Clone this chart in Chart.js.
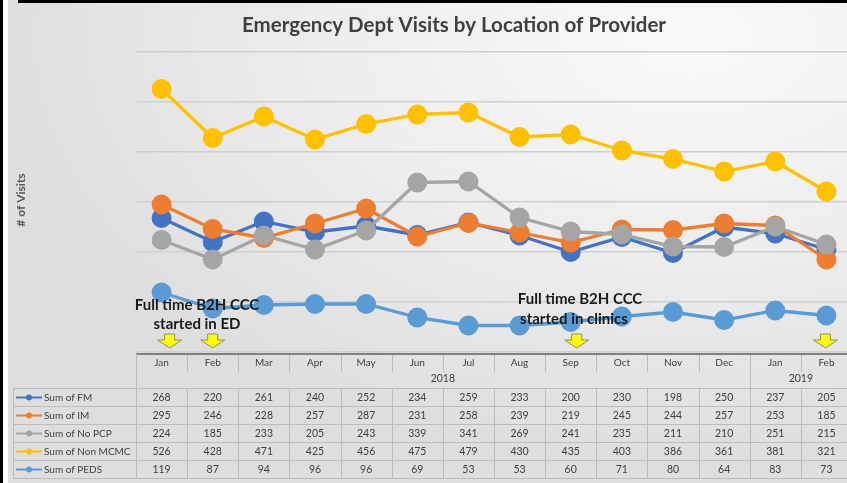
<!DOCTYPE html>
<html>
<head>
<meta charset="utf-8">
<script src="https://cdn.jsdelivr.net/npm/chart.js@4.4.1/dist/chart.umd.min.js"></script>
<style>
  html, body { margin: 0; padding: 0; overflow: hidden; width: 847px; height: 483px; }
  #wrap {
    position: relative; width: 862px; height: 483px;
    background: radial-gradient(ellipse 700px 420px at 80% 8%, #fafafa 0%, #ececec 55%, #dedede 100%);
  }
  #leftbar { position: absolute; left: 0; top: 0; width: 3px; height: 483px; background: #000; }
  #leftwhite { position: absolute; left: 3px; top: 0; width: 5px; height: 483px; background: #fff; }
  #topbar { position: absolute; left: 18px; top: 0; width: 844px; height: 3px; background: #000; }
</style>
</head>
<body>
<div id="wrap">
  <canvas id="edChart" width="862" height="483"></canvas>
  <div id="leftwhite"></div>
  <div id="leftbar"></div>
  <div id="topbar"></div>
</div>
<script>
const months = ['Jan', 'Feb', 'Mar', 'Apr', 'May', 'Jun', 'Jul', 'Aug', 'Sep', 'Oct', 'Nov', 'Dec', 'Jan', 'Feb'];
const years = [{ label: '2018', from: 0, to: 11 }, { label: '2019', from: 12, to: 13 }];

const fm      = [268, 220, 261, 240, 252, 234, 259, 233, 200, 230, 198, 250, 237, 205];
const im      = [295, 246, 228, 257, 287, 231, 258, 239, 219, 245, 244, 257, 253, 185];
const noPcp   = [224, 185, 233, 205, 243, 339, 341, 269, 241, 235, 211, 210, 251, 215];
const nonMcmc = [526, 428, 471, 425, 456, 475, 479, 430, 435, 403, 386, 361, 381, 321];
const peds    = [119, 87, 94, 96, 96, 69, 53, 53, 60, 71, 80, 64, 83, 73];

const seriesNames = ['Sum of FM', 'Sum of IM', 'Sum of No PCP', 'Sum of Non MCMC', 'Sum of PEDS'];
const seriesColors = ['#4472C4', '#ED7D31', '#A5A5A5', '#FFC000', '#5B9BD5'];
const seriesData = [fm, im, noPcp, nonMcmc, peds];

// arrows: month index + small pixel nudge
const arrowMarks = [{ i: 0, dx: 8 }, { i: 1, dx: 0 }, { i: 8, dx: 6 }, { i: 13, dx: -1 }];

const TXT = '#404040';

const tablePlugin = {
  id: 'excelTable',
  afterDraw(chart) {
    const ctx = chart.ctx;
    const xs = chart.scales.x;
    const area = chart.chartArea;
    const colW = xs.getPixelForValue(1) - xs.getPixelForValue(0);
    const left = area.left;
    const edge = (i) => xs.getPixelForValue(i) - colW / 2;
    const rowTop = 388, rowH = 18;
    ctx.save();

    // title
    ctx.fillStyle = TXT;
    ctx.textAlign = 'center';
    ctx.textBaseline = 'middle';
    ctx.font = 'bold 20.5px Lato, "Open Sans", sans-serif';
    ctx.fillText('Emergency Dept Visits by Location of Provider', 454, 25);

    // y title
    ctx.save();
    ctx.translate(21, 200);
    ctx.rotate(-Math.PI / 2);
    ctx.font = 'bold 12px Lato, "Open Sans", sans-serif';
    ctx.fillStyle = '#595959';
    ctx.fillText('# of Visits', 0, 0);
    ctx.restore();

    // header top line
    ctx.strokeStyle = '#808080';
    ctx.lineWidth = 2;
    ctx.beginPath();
    ctx.moveTo(left, 354); ctx.lineTo(chart.width, 354);
    ctx.stroke();

    ctx.strokeStyle = '#bcbcbc';
    ctx.lineWidth = 1;
    // header separators
    ctx.beginPath();
    ctx.moveTo(left + 0.5, 354); ctx.lineTo(left + 0.5, rowTop);
    for (let i = 1; i < months.length; i++) {
      const x = Math.round(edge(i)) + 0.5;
      ctx.moveTo(x, 355); ctx.lineTo(x, 372);
    }
    years.forEach(y => {
      if (y.from > 0) {
        const x = Math.round(edge(y.from)) + 0.5;
        ctx.moveTo(x, 372); ctx.lineTo(x, rowTop);
      }
    });
    ctx.stroke();

    // data grid
    ctx.beginPath();
    for (let r = 0; r <= seriesData.length; r++) {
      const y = rowTop + r * rowH + 0.5;
      ctx.moveTo(13, y); ctx.lineTo(chart.width, y);
    }
    ctx.moveTo(13.5, rowTop); ctx.lineTo(13.5, rowTop + rowH * seriesData.length);
    for (let i = 0; i < months.length; i++) {
      const x = Math.round(edge(i)) + 0.5;
      ctx.moveTo(x, rowTop); ctx.lineTo(x, rowTop + rowH * seriesData.length);
    }
    ctx.stroke();

    // month labels
    ctx.fillStyle = TXT;
    ctx.font = '10px Lato, "Open Sans", sans-serif';
    months.forEach((m, i) => ctx.fillText(m, xs.getPixelForValue(i), 363));
    ctx.font = '10.5px Lato, "Open Sans", sans-serif';
    years.forEach(y => {
      const cx = (edge(y.from) + edge(y.to + 1)) / 2;
      ctx.fillText(y.label, cx, 379);
    });

    // rows
    seriesData.forEach((vals, r) => {
      const cy = rowTop + r * rowH + rowH / 2 + 0.5;
      ctx.strokeStyle = seriesColors[r];
      ctx.lineWidth = 2;
      ctx.beginPath(); ctx.moveTo(16, cy); ctx.lineTo(42, cy); ctx.stroke();
      ctx.fillStyle = seriesColors[r];
      ctx.beginPath(); ctx.arc(29, cy, 3, 0, Math.PI * 2); ctx.fill();
      ctx.fillStyle = TXT;
      ctx.textAlign = 'left';
      ctx.font = '10px Lato, "Open Sans", sans-serif';
      ctx.fillText(seriesNames[r], 44, cy);
      ctx.textAlign = 'center';
      ctx.font = '10.5px Lato, "Open Sans", sans-serif';
      vals.forEach((v, i) => ctx.fillText(String(v), xs.getPixelForValue(i), cy));
    });

    // annotations
    ctx.fillStyle = '#1a1a1a';
    ctx.font = 'bold 15px Lato, "Open Sans", sans-serif';
    ctx.fillText('Full time B2H CCC', 197, 305);
    ctx.fillText('started in ED', 197, 324);
    ctx.fillText('Full time B2H CCC', 580, 299);
    ctx.fillText('started in clinics', 574, 319);

    // yellow arrows
    arrowMarks.forEach(a => {
      const cx = xs.getPixelForValue(a.i) + a.dx;
      ctx.beginPath();
      ctx.moveTo(cx - 5, 334);
      ctx.lineTo(cx + 5, 334);
      ctx.lineTo(cx + 5, 340);
      ctx.lineTo(cx + 12, 340);
      ctx.lineTo(cx, 348);
      ctx.lineTo(cx - 12, 340);
      ctx.lineTo(cx - 5, 340);
      ctx.closePath();
      ctx.fillStyle = '#FFFF00';
      ctx.fill();
      ctx.strokeStyle = '#8c8c6a';
      ctx.lineWidth = 1;
      ctx.stroke();
    });
    ctx.restore();
  }
};

const ctx = document.getElementById('edChart').getContext('2d');
new Chart(ctx, {
  type: 'line',
  data: {
    labels: months,
    datasets: seriesData.map((d, k) => ({
      label: seriesNames[k],
      data: d,
      borderColor: seriesColors[k],
      backgroundColor: seriesColors[k],
      borderWidth: 3.3,
      pointRadius: 10,
      pointHoverRadius: 10,
      pointBorderWidth: 0,
      tension: 0,
      order: 5 - k
    }))
  },
  options: {
    responsive: false,
    animation: false,
    clip: false,
    layout: { padding: { left: 136, right: 1, top: 52, bottom: 131 } },
    plugins: { legend: { display: false }, tooltip: { enabled: false }, title: { display: false } },
    scales: {
      x: { display: false, offset: true },
      y: {
        min: 0, max: 600,
        ticks: { display: false, stepSize: 100 },
        border: { display: false },
        grid: { color: '#cfcfcf', lineWidth: 1.5, drawTicks: false }
      }
    }
  },
  plugins: [tablePlugin]
});
</script>
</body>
</html>
